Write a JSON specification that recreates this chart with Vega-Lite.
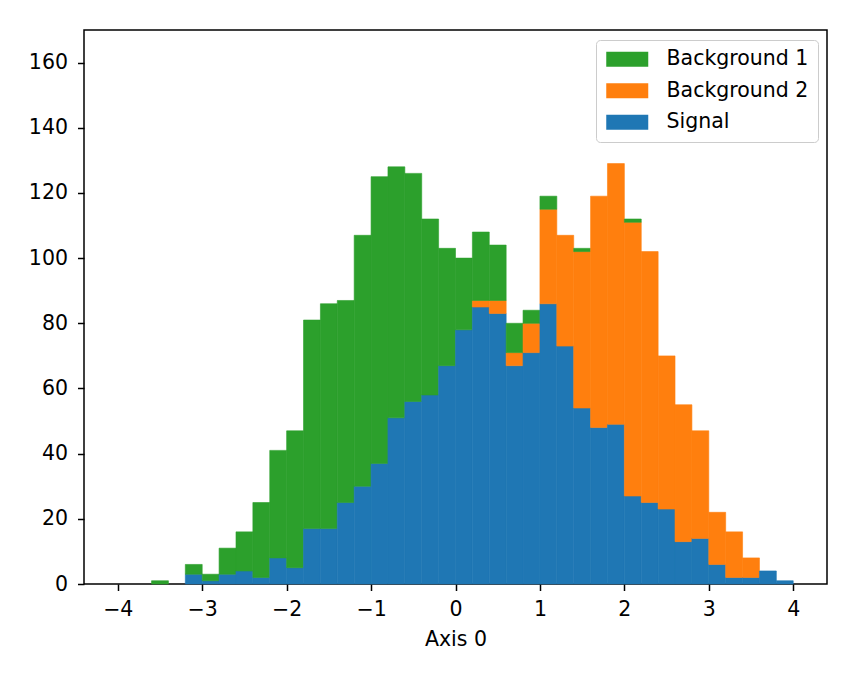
{
  "$schema": "https://vega.github.io/schema/vega-lite/v6.json",
  "width": 743,
  "height": 554,
  "autosize": {"type": "none"},
  "padding": {"left": 84, "top": 30, "right": 30, "bottom": 95},
  "background": "white",
  "config": {
    "font": "DejaVu Sans",
    "view": {"stroke": "black", "strokeWidth": 1.5},
    "axis": {
      "grid": false,
      "domain": false,
      "tickColor": "black",
      "tickWidth": 1.5,
      "tickSize": 6.5,
      "labelFont": "DejaVu Sans",
      "labelFontSize": 20.5,
      "labelColor": "black",
      "titleFont": "DejaVu Sans",
      "titleFontSize": 20.5,
      "titleFontWeight": "normal",
      "titleColor": "black"
    }
  },
  "data": {
    "values": [
      {"lo": -3.6, "hi": -3.4, "group": "Background 1", "n": 1},
      {"lo": -3.2, "hi": -3.0, "group": "Signal", "n": 3},
      {"lo": -3.2, "hi": -3.0, "group": "Background 1", "n": 3},
      {"lo": -3.0, "hi": -2.8, "group": "Signal", "n": 1},
      {"lo": -3.0, "hi": -2.8, "group": "Background 1", "n": 2},
      {"lo": -2.8, "hi": -2.6, "group": "Signal", "n": 3},
      {"lo": -2.8, "hi": -2.6, "group": "Background 1", "n": 8},
      {"lo": -2.6, "hi": -2.4, "group": "Signal", "n": 4},
      {"lo": -2.6, "hi": -2.4, "group": "Background 1", "n": 12},
      {"lo": -2.4, "hi": -2.2, "group": "Signal", "n": 2},
      {"lo": -2.4, "hi": -2.2, "group": "Background 1", "n": 23},
      {"lo": -2.2, "hi": -2.0, "group": "Signal", "n": 8},
      {"lo": -2.2, "hi": -2.0, "group": "Background 1", "n": 33},
      {"lo": -2.0, "hi": -1.8, "group": "Signal", "n": 5},
      {"lo": -2.0, "hi": -1.8, "group": "Background 1", "n": 42},
      {"lo": -1.8, "hi": -1.6, "group": "Signal", "n": 17},
      {"lo": -1.8, "hi": -1.6, "group": "Background 1", "n": 64},
      {"lo": -1.6, "hi": -1.4, "group": "Signal", "n": 17},
      {"lo": -1.6, "hi": -1.4, "group": "Background 1", "n": 69},
      {"lo": -1.4, "hi": -1.2, "group": "Signal", "n": 25},
      {"lo": -1.4, "hi": -1.2, "group": "Background 1", "n": 62},
      {"lo": -1.2, "hi": -1.0, "group": "Signal", "n": 30},
      {"lo": -1.2, "hi": -1.0, "group": "Background 1", "n": 77},
      {"lo": -1.0, "hi": -0.8, "group": "Signal", "n": 37},
      {"lo": -1.0, "hi": -0.8, "group": "Background 1", "n": 88},
      {"lo": -0.8, "hi": -0.6, "group": "Signal", "n": 51},
      {"lo": -0.8, "hi": -0.6, "group": "Background 1", "n": 77},
      {"lo": -0.6, "hi": -0.4, "group": "Signal", "n": 56},
      {"lo": -0.6, "hi": -0.4, "group": "Background 1", "n": 70},
      {"lo": -0.4, "hi": -0.2, "group": "Signal", "n": 58},
      {"lo": -0.4, "hi": -0.2, "group": "Background 1", "n": 54},
      {"lo": -0.2, "hi": 0.0, "group": "Signal", "n": 67},
      {"lo": -0.2, "hi": 0.0, "group": "Background 1", "n": 36},
      {"lo": 0.0, "hi": 0.2, "group": "Signal", "n": 78},
      {"lo": 0.0, "hi": 0.2, "group": "Background 1", "n": 22},
      {"lo": 0.2, "hi": 0.4, "group": "Signal", "n": 85},
      {"lo": 0.2, "hi": 0.4, "group": "Background 2", "n": 2},
      {"lo": 0.2, "hi": 0.4, "group": "Background 1", "n": 21},
      {"lo": 0.4, "hi": 0.6, "group": "Signal", "n": 83},
      {"lo": 0.4, "hi": 0.6, "group": "Background 2", "n": 4},
      {"lo": 0.4, "hi": 0.6, "group": "Background 1", "n": 17},
      {"lo": 0.6, "hi": 0.8, "group": "Signal", "n": 67},
      {"lo": 0.6, "hi": 0.8, "group": "Background 2", "n": 4},
      {"lo": 0.6, "hi": 0.8, "group": "Background 1", "n": 9},
      {"lo": 0.8, "hi": 1.0, "group": "Signal", "n": 71},
      {"lo": 0.8, "hi": 1.0, "group": "Background 2", "n": 9},
      {"lo": 0.8, "hi": 1.0, "group": "Background 1", "n": 4},
      {"lo": 1.0, "hi": 1.2, "group": "Signal", "n": 86},
      {"lo": 1.0, "hi": 1.2, "group": "Background 2", "n": 29},
      {"lo": 1.0, "hi": 1.2, "group": "Background 1", "n": 4},
      {"lo": 1.2, "hi": 1.4, "group": "Signal", "n": 73},
      {"lo": 1.2, "hi": 1.4, "group": "Background 2", "n": 34},
      {"lo": 1.4, "hi": 1.6, "group": "Signal", "n": 54},
      {"lo": 1.4, "hi": 1.6, "group": "Background 2", "n": 48},
      {"lo": 1.4, "hi": 1.6, "group": "Background 1", "n": 1},
      {"lo": 1.6, "hi": 1.8, "group": "Signal", "n": 48},
      {"lo": 1.6, "hi": 1.8, "group": "Background 2", "n": 71},
      {"lo": 1.8, "hi": 2.0, "group": "Signal", "n": 49},
      {"lo": 1.8, "hi": 2.0, "group": "Background 2", "n": 80},
      {"lo": 2.0, "hi": 2.2, "group": "Signal", "n": 27},
      {"lo": 2.0, "hi": 2.2, "group": "Background 2", "n": 84},
      {"lo": 2.0, "hi": 2.2, "group": "Background 1", "n": 1},
      {"lo": 2.2, "hi": 2.4, "group": "Signal", "n": 25},
      {"lo": 2.2, "hi": 2.4, "group": "Background 2", "n": 77},
      {"lo": 2.4, "hi": 2.6, "group": "Signal", "n": 23},
      {"lo": 2.4, "hi": 2.6, "group": "Background 2", "n": 47},
      {"lo": 2.6, "hi": 2.8, "group": "Signal", "n": 13},
      {"lo": 2.6, "hi": 2.8, "group": "Background 2", "n": 42},
      {"lo": 2.8, "hi": 3.0, "group": "Signal", "n": 14},
      {"lo": 2.8, "hi": 3.0, "group": "Background 2", "n": 33},
      {"lo": 3.0, "hi": 3.2, "group": "Signal", "n": 6},
      {"lo": 3.0, "hi": 3.2, "group": "Background 2", "n": 16},
      {"lo": 3.2, "hi": 3.4, "group": "Signal", "n": 2},
      {"lo": 3.2, "hi": 3.4, "group": "Background 2", "n": 14},
      {"lo": 3.4, "hi": 3.6, "group": "Signal", "n": 2},
      {"lo": 3.4, "hi": 3.6, "group": "Background 2", "n": 6},
      {"lo": 3.6, "hi": 3.8, "group": "Signal", "n": 4},
      {"lo": 3.8, "hi": 4.0, "group": "Signal", "n": 1}
    ]
  },
  "transform": [
    {
      "stack": "n",
      "groupby": ["lo"],
      "sort": [{"field": "group", "order": "descending"}],
      "as": ["y0", "y1"]
    }
  ],
  "mark": {"type": "bar", "strokeWidth": 0.6},
  "encoding": {
    "x": {
      "field": "lo",
      "type": "quantitative",
      "scale": {"domain": [-4.4, 4.4], "nice": false, "zero": false},
      "axis": {
        "values": [-4, -3, -2, -1, 0, 1, 2, 3, 4],
        "format": "d",
        "labelBaseline": "alphabetic",
        "labelPadding": 24.5,
        "title": "Axis 0",
        "titleBaseline": "alphabetic",
        "titleY": 61
      }
    },
    "x2": {"field": "hi"},
    "y": {
      "field": "y0",
      "type": "quantitative",
      "scale": {"domain": [0, 170], "nice": false},
      "axis": {
        "values": [0, 20, 40, 60, 80, 100, 120, 140, 160],
        "labelPadding": 10,
        "title": null
      }
    },
    "y2": {"field": "y1"},
    "stroke": {
      "field": "group",
      "type": "nominal",
      "scale": {
        "domain": ["Background 1", "Background 2", "Signal"],
        "range": ["#2ca02c", "#ff7f0e", "#1f77b4"]
      },
      "legend": null
    },
    "color": {
      "field": "group",
      "type": "nominal",
      "scale": {
        "domain": ["Background 1", "Background 2", "Signal"],
        "range": ["#2ca02c", "#ff7f0e", "#1f77b4"]
      },
      "legend": {
        "title": null,
        "orient": "top-right",
        "offset": 9.5,
        "padding": 9,
        "fillColor": "rgba(255,255,255,0.8)",
        "strokeColor": "#cccccc",
        "cornerRadius": 4,
        "symbolType": "M-1,-0.833H3.667V0.833H-1Z",
        "symbolSize": 324,
        "symbolStrokeWidth": 0,
        "symbolOpacity": 1,
        "labelFont": "DejaVu Sans",
        "labelFontSize": 20.5,
        "labelColor": "black",
        "labelOffset": 41,
        "rowPadding": 10.5
      }
    }
  }
}
